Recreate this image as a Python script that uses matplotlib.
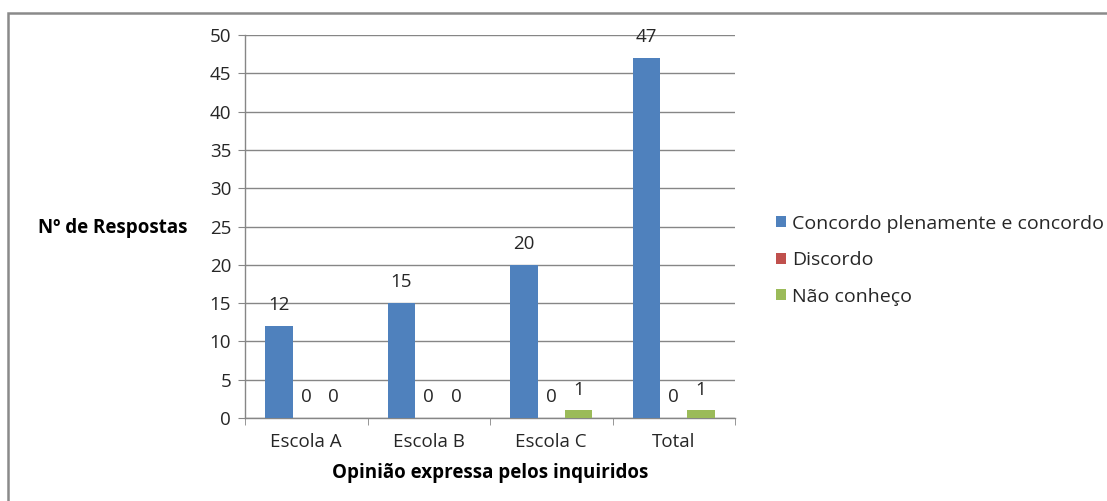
import matplotlib
matplotlib.use("Agg")
import matplotlib.pyplot as plt
from matplotlib.patches import Rectangle
import numpy as np

categories = ["Escola A", "Escola B", "Escola C", "Total"]
series_names = ["Concordo plenamente e concordo", "Discordo", "Não conheço"]
concordo = [12, 15, 20, 47]
discordo = [0, 0, 0, 0]
nao_conheco = [0, 0, 1, 1]
yticks = [0, 5, 10, 15, 20, 25, 30, 35, 40, 45, 50]

colors = ["#4F81BD", "#C0504D", "#9BBB59"]
grid_color = "#868686"
text_color = "#262626"
fs = 13.5

plt.rcParams["font.family"] = ["Open Sans", "DejaVu Sans"]

W, H = 1107, 501
fig = plt.figure(figsize=(W / 100, H / 100), dpi=100)
fig.patch.set_facecolor("white")

# outer chart frame
fig.add_artist(Rectangle((8 / W, -0.1), 1.2, (H - 13) / H + 0.1,
                         transform=fig.transFigure, fill=False,
                         edgecolor="#8a8a8a", linewidth=1.8))

ax = fig.add_axes([245 / W, (H - 418) / H, (735 - 245) / W, (418 - 35) / H])

n = len(categories)
x = np.arange(n)
bw = 1 / 4.5
series = [concordo, discordo, nao_conheco]
for i, (vals, col, name) in enumerate(zip(series, colors, series_names)):
    pos = x + (i - 1) * bw
    ax.bar(pos, vals, width=bw, color=col, label=name, zorder=3)
    for p, v in zip(pos, vals):
        ax.annotate(str(v), (p, v), xytext=(0, 15), textcoords="offset points",
                    ha="center", va="center", fontsize=fs, color=text_color)

ax.set_xlim(-0.5, n - 0.5)
ax.set_ylim(0, 50)
ax.set_yticks(yticks)
ax.set_yticklabels([str(t) for t in yticks], fontsize=fs, color=text_color)
ax.yaxis.grid(True, color=grid_color, linewidth=1, zorder=0)
ax.set_axisbelow(True)

ax.set_xticks(x)
ax.set_xticklabels(categories, fontsize=fs, color=text_color)
ax.tick_params(axis="x", length=0, pad=11)
ax.set_xticks(np.arange(n + 1) - 0.5, minor=True)
ax.tick_params(axis="x", which="minor", length=5, color=grid_color, direction="out")
ax.tick_params(axis="y", length=5, color=grid_color, pad=5)

for s in ["top", "right"]:
    ax.spines[s].set_visible(False)
for s in ["left", "bottom"]:
    ax.spines[s].set_color(grid_color)
    ax.spines[s].set_linewidth(1)

fig.text(490 / W, 1 - 473 / H, "Opinião expressa pelos inquiridos",
         ha="center", va="center", fontsize=fs, fontweight="bold", color="black")
fig.text(188 / W, 1 - 228 / H, "Nº de Respostas",
         ha="right", va="center", fontsize=fs, fontweight="bold", color="black")

leg = fig.legend(loc="upper left", bbox_to_anchor=(768 / W, 1 - 207 / H),
                 frameon=False, fontsize=14, handlelength=0.5, handleheight=0.5,
                 handletextpad=0.35, labelspacing=0.95, borderaxespad=0)
for t in leg.get_texts():
    t.set_color(text_color)

fig.savefig("out.png", dpi=100, facecolor="white")
